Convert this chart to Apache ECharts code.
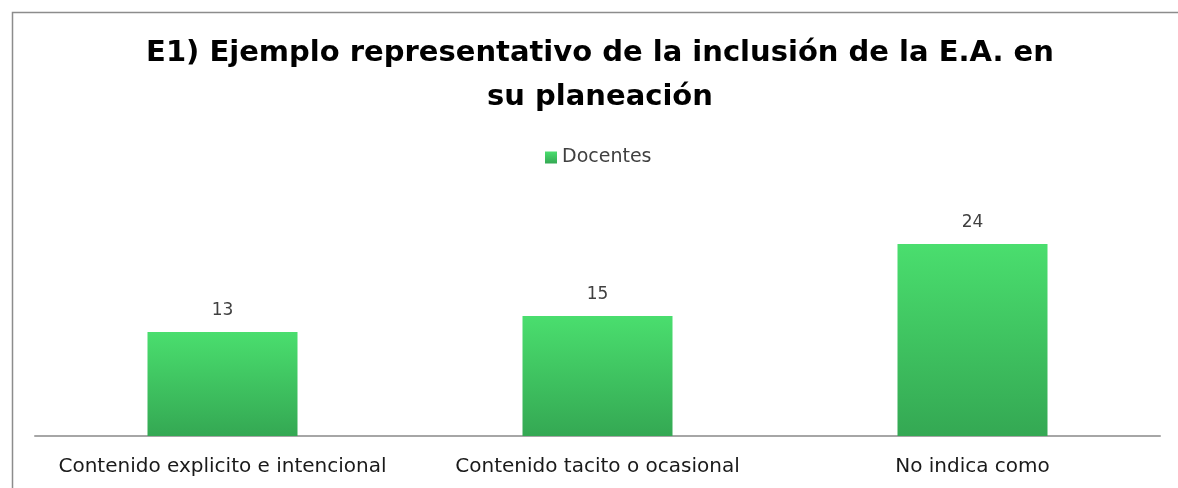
<!DOCTYPE html>
<html>
<head>
<meta charset="utf-8">
<script src="https://cdn.jsdelivr.net/npm/echarts@6/dist/echarts.min.js"></script>
<style>
  html, body { margin: 0; padding: 0; background: #fff; }
  #chart { width: 1178px; height: 488px; }
</style>
</head>
<body>
<div id="chart"></div>
<script>
// datos del gráfico
const categories = ['Contenido explicito e intencional', 'Contenido tacito o ocasional', 'No indica como']
const docentes = [13, 15, 24]
const seriesName = 'Docentes'
const titleText = 'E1) Ejemplo representativo de la inclusión de la E.A. en\nsu planeación'

const chart = echarts.init(document.getElementById('chart'))

const barGradient = new echarts.graphic.LinearGradient(0, 0, 0, 1, [
  { offset: 0, color: '#4ade6e' },
  { offset: 1, color: '#34a853' }
])

const option = {
  backgroundColor: '#fff',
  animation: false,
  graphic: [
    {
      // marco del gráfico
      type: 'rect',
      left: 10,
      top: 10,
      shape: { width: 1200, height: 500 },
      style: { fill: 'none', stroke: '#8c8c8c', lineWidth: 1.5 },
      silent: true
    }
  ],
  title: {
    text: titleText,
    left: 595,
    top: 26,
    textAlign: 'center',
    textStyle: {
      fontFamily: 'DejaVu Sans',
      fontWeight: 'bold',
      fontSize: 29,
      lineHeight: 44,
      color: '#000'
    }
  },
  legend: {
    data: [seriesName],
    top: 143,
    left: 540,
    itemWidth: 12,
    itemHeight: 12,
    itemGap: 6,
    icon: 'rect',
    textStyle: { fontFamily: 'DejaVu Sans', fontSize: 19, color: '#404040' }
  },
  grid: {
    left: 35,
    right: 18,
    top: 196,
    bottom: 52
  },
  xAxis: {
    type: 'category',
    data: categories,
    axisLine: { lineStyle: { color: '#a6a6a6', width: 2 } },
    axisTick: { show: false },
    axisLabel: {
      margin: 21,
      fontFamily: 'DejaVu Sans',
      fontSize: 20,
      color: '#1a1a1a',
      interval: 0
    }
  },
  yAxis: {
    type: 'value',
    min: 0,
    max: 30,
    show: false,
    splitLine: { show: false }
  },
  series: [
    {
      name: seriesName,
      type: 'bar',
      data: docentes,
      barWidth: '40%',
      itemStyle: { color: barGradient },
      label: {
        show: true,
        position: 'top',
        distance: 13,
        fontFamily: 'DejaVu Sans',
        fontSize: 17,
        color: '#404040'
      }
    }
  ]
}

chart.setOption(option)
</script>
</body>
</html>
